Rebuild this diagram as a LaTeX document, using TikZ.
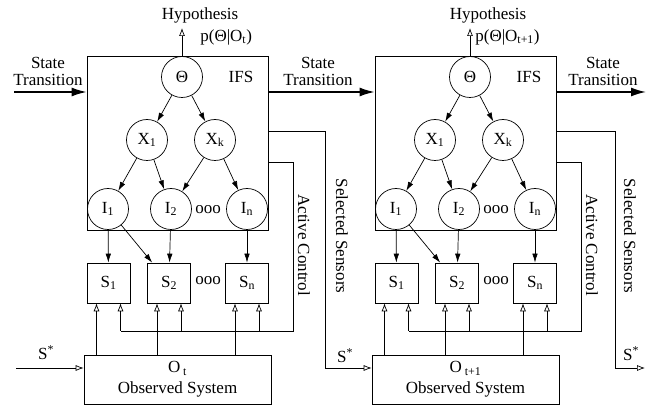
\documentclass[tikz,border=0pt]{standalone}
\usepackage{fontspec}
\setmainfont{Liberation Serif}
\usetikzlibrary{arrows.meta}

\tikzset{
  var/.style={circle,draw,minimum size=41pt,inner sep=0pt},
  sens/.style={draw,minimum width=43pt,minimum height=40pt,inner sep=0pt},
  dep/.style={-{Latex[length=9pt,width=5.5pt]}},
  obs/.style={-{Latex[open,length=8pt,width=6pt]}},
  trans/.style={line width=1.6pt,-{Latex[length=15pt,width=9pt]}}
}

\begin{document}
\begin{tikzpicture}
  [x=1pt,y=-1pt,line width=0.7pt,every node/.style={font=\fontsize{17}{17}\selectfont}]
  \useasboundingbox (0,0) rectangle (649,406);

  % one panel per time step
  \foreach \o/\n/\sub in {0/a/t,288/b/t+1}{
  \begin{scope}[xshift=\o pt]
    \node[draw,minimum width=181pt,minimum height=174pt] (ifs\n) at (177.5,143) {};
    \node (lab\n) at (241,77) {IFS};
    \node[var] (th\n) at (182,77) {Θ};
    \node[var] (x1\n) at (147,140) {X\textsubscript{1}};
    \node[var] (xk\n) at (215,140) {X\textsubscript{k}};
    \node[var] (i1\n) at (108,209) {I\textsubscript{1}};
    \node[var] (i2\n) at (171,209) {I\textsubscript{2}};
    \node[var] (in\n) at (247,209) {I\textsubscript{n}};
    \node (da\n) at (208,210) {ooo};
    \node[sens] (s1\n) at (108.5,283) {S\textsubscript{1}};
    \node[sens] (s2\n) at (169,283) {S\textsubscript{2}};
    \node[sens] (sn\n) at (247,283) {S\textsubscript{n}};
    \node (db\n) at (208,281) {ooo};
    \node[draw,minimum width=187pt,minimum height=49pt,align=center,inner sep=0pt] (ob\n) at (177.5,379.5)
      {O\,\textsubscript{\sub}\\[4pt]Observed System};

    \coordinate (hy\n) at (182,28);
    \node (ht\n) at (200,15) {Hypothesis};
    \draw[obs] (th\n) -- (hy\n);

    \foreach \a/\b in {th/x1,th/xk,x1/i1,x1/i2,xk/i2,xk/in,i1/s1,i1/s2,i2/s2,in/sn}
      \draw[dep] (\a\n) -- (\b\n);

    % active control loop
    \coordinate (ac\n) at (293,162);
    \coordinate (br\n) at (293,331);
    \node[rotate=-90] (acl\n) at (304,245) {Active Control};
    \foreach \s in {s1,s2,sn}{
      \coordinate (u\s\n) at ([xshift=-12pt]\s\n.south);
      \coordinate (v\s\n) at ([xshift=12pt]\s\n.south);
      \draw[obs] (ob\n.north -| u\s\n) -- (u\s\n);
      \draw[obs] (br\n -| v\s\n) -- (v\s\n);
    }
    \draw (ifs\n.east |- ac\n) -- (ac\n) -- (br\n) -- (br\n -| vs1\n);
  \end{scope}
  }

  \node[anchor=west,inner sep=0pt] (pa) at (200,37) {p(Θ|O\textsubscript{t})};
  \node[anchor=west,inner sep=0pt] (pb) at (475,37) {p(Θ|O\textsubscript{t+1})};

  % state transitions
  \coordinate (st0) at (14,92);
  \coordinate (st3) at (646,92);
  \draw[trans] (st0) -- (st0 -| ifsa.west);
  \draw[trans] (ifsa.east |- st0) -- (ifsb.west |- st0);
  \draw[trans] (ifsb.east |- st0) -- (st3);
  \node[align=center] (tl0) at (48,71) {State\\Transition};
  \node[align=center] (tl1) at (318,71) {State\\Transition};
  \node[align=center] (tl2) at (603,71) {State\\Transition};

  % selected sensors
  \coordinate (sin) at (16,368);
  \draw[obs] (sin) -- (sin -| oba.west);
  \node (sa) at (46,353) {S\textsuperscript{*}};
  \coordinate (ssa1) at (325,131);
  \coordinate (ssa2) at (325,368);
  \draw[obs] (ifsa.east |- ssa1) -- (ssa1) -- (ssa2) -- (ssa2 -| obb.west);
  \node (sb) at (345,356) {S\textsuperscript{*}};
  \node[rotate=-90] (sla) at (342,236) {Selected Sensors};
  \coordinate (ssb1) at (615,131);
  \coordinate (ssb2) at (615,368);
  \coordinate (sout) at (645,368);
  \draw[obs] (ifsb.east |- ssb1) -- (ssb1) -- (ssb2) -- (sout);
  \node (sc) at (631,354) {S\textsuperscript{*}};
  \node[rotate=-90] (slb) at (630,236) {Selected Sensors};

\end{tikzpicture}
\end{document}
